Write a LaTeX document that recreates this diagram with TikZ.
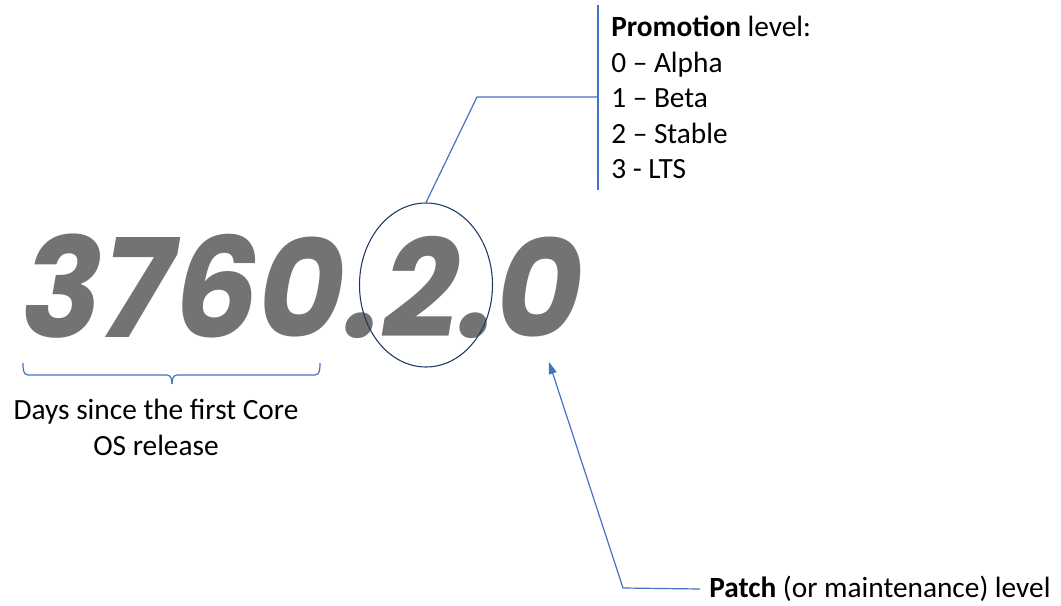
\documentclass[tikz,border=0pt]{standalone}
\usepackage{fontspec}
\setmainfont{Carlito}
\newfontfamily\digitfont{Poppins}[UprightFont=* Bold Italic]
\usetikzlibrary{arrows.meta,shapes.geometric}
\definecolor{lineblue}{HTML}{4472C4}
\definecolor{navy}{HTML}{1F3864}
\definecolor{digitgray}{HTML}{737373}
\tikzset{
  conn/.style={draw=lineblue, line width=0.9pt},
  lbl/.style={font=\fontsize{22}{26.6}\selectfont, text=black, inner sep=0pt},
}
\begin{document}
\begin{tikzpicture}[x=0.75pt,y=-0.75pt]
\useasboundingbox (0,0) rectangle (1061,606);
% big version number
\node[anchor=base west, inner sep=0pt, text=digitgray, font=\digitfont\fontsize{104}{104}\selectfont] (num) at (22,337) {\scalebox{0.96}[1]{3760.2.0}};
% ellipse around the 2
\node[draw=navy, line width=0.8pt, ellipse, minimum width=133*0.75pt, minimum height=164*0.75pt, inner sep=0pt] (ell) at (426,285) {};
% promotion callout
\coordinate (vt) at (598,5);
\coordinate (vb) at (598,190);
\coordinate (vm) at (598,97);
\coordinate (bend) at (477,97);
\draw[conn] (vt) -- (vb);
\draw[conn] (ell.north) -- (bend) -- (vm);
\node[lbl, anchor=north west, align=left] (promo) at (611,16) {\textbf{Promotion} level:\\0 – Alpha\\1 – Beta\\2 – Stable\\3 - LTS};
% brace under 3760
\coordinate (bl) at (23,363);
\coordinate (br) at (320,363);
\coordinate (bm) at (172,384);
\draw[conn] (bl) to[out=-90,in=180] (28,375) -- (167,375) to[out=0,in=90] (bm);
\draw[conn] (br) to[out=-90,in=0] (315,375) -- (177,375) to[out=180,in=90] (bm);
\node[lbl, font=\fontsize{22}{27}\selectfont, align=center, anchor=north] (days) at (156,399) {Days since the first Core\\OS release};
% patch arrow
\coordinate (pa) at (549,362);
\coordinate (pc) at (623,588);
\node[lbl, anchor=west] (patch) at (709,589) {\textbf{Patch} (or maintenance) level};
\draw[conn, -{Triangle[length=9pt,width=6pt]}] (patch.west) ++(-9,0) -- (pc) -- (pa);
\end{tikzpicture}
\end{document}
